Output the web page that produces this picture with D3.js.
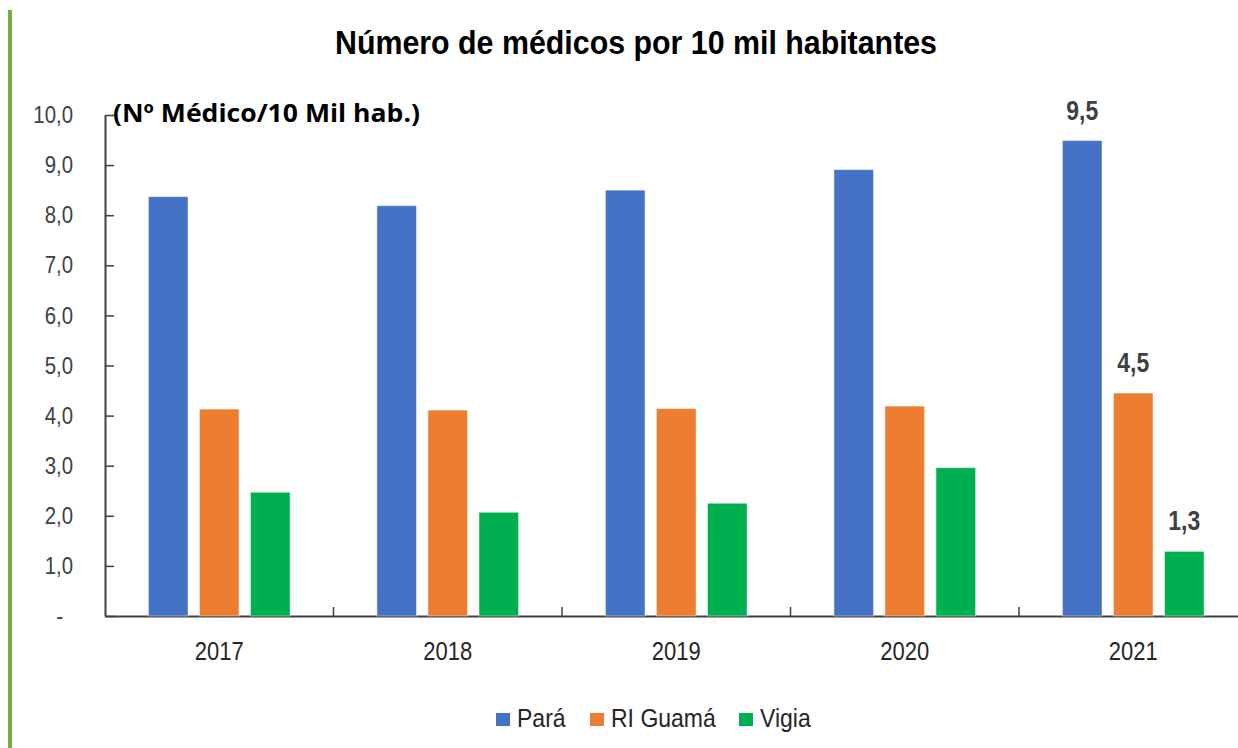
<!DOCTYPE html>
<html>
<head>
<meta charset="utf-8">
<script src="https://cdn.jsdelivr.net/npm/d3@7"></script>
<style>
  body { margin: 0; background: #fff; }
  svg { display: block; }
</style>
</head>
<body>
<div id="chart"></div>
<script>
// Data
var years = ['2017', '2018', '2019', '2020', '2021'];
var seriesNames = ['Pará', 'RI Guamá', 'Vigia'];
var para = [8.37, 8.19, 8.50, 8.91, 9.49];
var riGuama = [4.13, 4.11, 4.14, 4.19, 4.45];
var vigia = [2.47, 2.07, 2.25, 2.96, 1.29];
var yTicks = [0, 1, 2, 3, 4, 5, 6, 7, 8, 9, 10];
var labelledYear = '2021';

var width = 1238,
    height = 748,
    margin = { left: 105, top: 115, bottom: 132 },
    colors = ['#4472C4', '#ED7D31', '#00B050'],
    arial = '"Liberation Sans", Arial, sans-serif';

var values = [para, riGuama, vigia];
var rows = years.map(function (y, i) {
    return { year: y, vals: values.map(function (s, j) { return { name: seriesNames[j], v: s[i], j: j }; }) };
});

// squeeze text horizontally to imitate a narrow face
function condense(sel, factor) {
    sel.each(function () {
        var len = this.getComputedTextLength();
        d3.select(this)
            .attr('textLength', len * factor)
            .attr('lengthAdjust', 'spacingAndGlyphs');
    });
}

var svg = d3.select('#chart').append('svg')
    .attr('width', width)
    .attr('height', height);

// green left border
svg.append('rect')
    .attr('x', 8)
    .attr('y', 10)
    .attr('width', 4)
    .attr('height', height - 10)
    .attr('fill', '#70AD47');

var x0 = d3.scaleBand()
    .domain(years)
    .range([margin.left, margin.left + 5 * 228.5])
    .padding(0);

var x1 = d3.scaleBand()
    .domain(seriesNames)
    .range([0, 141.6])
    .paddingInner(0.225);

var y = d3.scaleLinear()
    .domain([0, 10])
    .range([height - margin.bottom, margin.top]);

// title
svg.append('text')
    .attr('x', 636)
    .attr('y', 54)
    .attr('text-anchor', 'middle')
    .attr('textLength', 602)
    .attr('lengthAdjust', 'spacingAndGlyphs')
    .style('font-family', arial)
    .style('font-weight', 'bold')
    .style('font-size', '34px')
    .attr('fill', '#000')
    .text('Número de médicos por 10 mil habitantes');

// y axis
var yAxis = d3.axisLeft(y)
    .tickValues(yTicks)
    .tickSize(-9)
    .tickSizeOuter(0)
    .tickFormat(function (d) { return d === 0 ? '-' : d3.format('.1f')(d).replace('.', ','); });

var yG = svg.append('g')
    .attr('transform', 'translate(' + margin.left + ',0)')
    .call(yAxis);
yG.select('.domain').attr('stroke', '#404040').attr('stroke-width', 2);
yG.selectAll('.tick line').attr('stroke', '#404040').attr('stroke-width', 1.5);
yG.selectAll('.tick text')
    .attr('x', function (d) { return d === 0 ? -42 : -32; })
    .style('font-family', arial)
    .style('font-size', '24px')
    .attr('fill', '#404040')
    .call(condense, 0.85);

// x axis
var xAxis = d3.axisBottom(x0)
    .tickSize(0);

var xG = svg.append('g')
    .attr('transform', 'translate(0,' + y(0) + ')')
    .call(xAxis);
xG.select('.domain').attr('stroke', '#404040').attr('stroke-width', 2);
xG.selectAll('.tick text')
    .attr('y', 26)
    .style('font-family', arial)
    .style('font-size', '25px')
    .attr('fill', '#262626')
    .call(condense, 0.88);

// separator ticks between categories
xG.selectAll('.sep')
    .data(years.slice(1))
    .enter()
    .append('line')
    .attr('class', 'sep')
    .attr('x1', function (d) { return x0(d); })
    .attr('x2', function (d) { return x0(d); })
    .attr('y1', 0)
    .attr('y2', -9)
    .attr('stroke', '#404040')
    .attr('stroke-width', 1.5);

// bars
var groups = svg.selectAll('.grp')
    .data(rows)
    .enter()
    .append('g')
    .attr('class', 'grp')
    .attr('transform', function (d) {
        return 'translate(' + (x0(d.year) + (x0.bandwidth() - 141.6) / 2) + ',0)';
    });

groups.selectAll('rect')
    .data(function (d) { return d.vals; })
    .enter()
    .append('rect')
    .attr('x', function (d) { return x1(d.name); })
    .attr('y', function (d) { return y(d.v); })
    .attr('width', x1.bandwidth())
    .attr('height', function (d) { return y(0) - y(d.v); })
    .attr('fill', function (d) { return colors[d.j]; })
    .attr('stroke', 'rgba(255,255,255,0.45)')
    .attr('stroke-width', 1);

// data labels (last year only)
groups.filter(function (d) { return d.year === labelledYear; })
    .selectAll('.lbl')
    .data(function (d) { return d.vals; })
    .enter()
    .append('text')
    .attr('class', 'lbl')
    .attr('x', function (d) { return x1(d.name) + x1.bandwidth() / 2; })
    .attr('y', function (d) { return y(d.v) - 21; })
    .attr('text-anchor', 'middle')
    .style('font-family', arial)
    .style('font-weight', 'bold')
    .style('font-size', '27px')
    .attr('fill', '#404040')
    .text(function (d) { return d3.format('.1f')(d.v).replace('.', ','); })
    .call(condense, 0.85);

// unit label
svg.append('text')
    .attr('x', 113)
    .attr('y', 122)
    .attr('textLength', 307)
    .attr('lengthAdjust', 'spacingAndGlyphs')
    .style('font-family', '"Open Sans", "Noto Sans", sans-serif')
    .style('font-weight', 'bold')
    .style('font-size', '25px')
    .attr('fill', '#000')
    .text('(Nº Médico/10 Mil hab.)');

// legend
var legendX = [496, 590, 739];
var legend = svg.selectAll('.leg')
    .data(seriesNames)
    .enter()
    .append('g')
    .attr('class', 'leg')
    .attr('transform', function (d, i) { return 'translate(' + legendX[i] + ',713)'; });

legend.append('rect')
    .attr('width', 14)
    .attr('height', 13)
    .attr('fill', function (d, i) { return colors[i]; });

legend.append('text')
    .attr('x', 21)
    .attr('y', 14)
    .style('font-family', arial)
    .style('font-size', '25px')
    .attr('fill', '#262626')
    .text(function (d) { return d; })
    .call(condense, 0.92);
</script>
</body>
</html>
